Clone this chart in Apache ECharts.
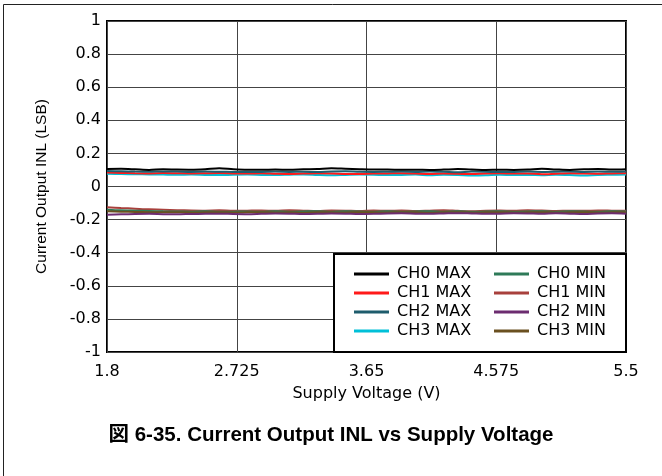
<!DOCTYPE html>
<html>
<head>
<meta charset="utf-8">
<script src="https://cdn.jsdelivr.net/npm/echarts@6/dist/echarts.min.js"></script>
<style>
  html, body { margin: 0; padding: 0; background: #fff; }
  #main { width: 662px; height: 476px; }
</style>
</head>
<body>
<div id="main"></div>
<script>
// supply voltage (V)
var volts = [1.8, 1.9, 2.0, 2.1, 2.2, 2.3, 2.4, 2.5, 2.6, 2.7,
             2.8, 2.9, 3.0, 3.1, 3.2, 3.3, 3.4, 3.5, 3.6, 3.7,
             3.8, 3.9, 4.0, 4.1, 4.2, 4.3, 4.4, 4.5, 4.6, 4.7,
             4.8, 4.9, 5.0, 5.1, 5.2, 5.3, 5.4, 5.5];

var ch0Max = [0.106, 0.107, 0.104, 0.100, 0.104, 0.102, 0.101, 0.104, 0.110, 0.104,
              0.101, 0.101, 0.102, 0.101, 0.104, 0.106, 0.110, 0.107, 0.104, 0.102,
              0.102, 0.101, 0.101, 0.100, 0.102, 0.105, 0.103, 0.100, 0.101, 0.100,
              0.102, 0.107, 0.103, 0.100, 0.104, 0.106, 0.102, 0.104];
var ch1Max = [0.084, 0.082, 0.080, 0.079, 0.081, 0.080, 0.079, 0.080, 0.081, 0.079,
              0.078, 0.080, 0.077, 0.075, 0.078, 0.080, 0.079, 0.076, 0.075, 0.078,
              0.079, 0.080, 0.078, 0.076, 0.079, 0.077, 0.075, 0.079, 0.080, 0.078,
              0.079, 0.074, 0.077, 0.080, 0.078, 0.077, 0.079, 0.080];
var ch2Max = [0.093, 0.092, 0.090, 0.089, 0.091, 0.090, 0.088, 0.090, 0.089, 0.088,
              0.087, 0.088, 0.090, 0.088, 0.089, 0.087, 0.091, 0.092, 0.089, 0.088,
              0.089, 0.090, 0.088, 0.091, 0.089, 0.086, 0.090, 0.089, 0.087, 0.088,
              0.090, 0.088, 0.089, 0.091, 0.088, 0.090, 0.089, 0.091];
var ch3Max = [0.077, 0.075, 0.074, 0.073, 0.072, 0.071, 0.072, 0.070, 0.069, 0.071,
              0.072, 0.070, 0.069, 0.071, 0.073, 0.070, 0.068, 0.070, 0.072, 0.071,
              0.069, 0.070, 0.072, 0.068, 0.071, 0.070, 0.067, 0.068, 0.071, 0.069,
              0.070, 0.068, 0.071, 0.069, 0.067, 0.070, 0.071, 0.072];
var ch0Min = [-0.140, -0.144, -0.146, -0.148, -0.150, -0.151, -0.152, -0.150, -0.153, -0.152,
              -0.151, -0.153, -0.150, -0.152, -0.151, -0.149, -0.152, -0.150, -0.151, -0.153,
              -0.150, -0.152, -0.151, -0.149, -0.152, -0.150, -0.153, -0.151, -0.150, -0.152,
              -0.151, -0.149, -0.152, -0.150, -0.151, -0.153, -0.150, -0.151];
var ch1Min = [-0.125, -0.130, -0.134, -0.138, -0.140, -0.143, -0.145, -0.146, -0.144, -0.147,
              -0.146, -0.145, -0.147, -0.144, -0.146, -0.148, -0.145, -0.146, -0.148, -0.145,
              -0.147, -0.145, -0.148, -0.146, -0.144, -0.147, -0.149, -0.146, -0.145, -0.147,
              -0.143, -0.145, -0.148, -0.146, -0.147, -0.145, -0.146, -0.147];
var ch2Min = [-0.170, -0.168, -0.166, -0.165, -0.167, -0.168, -0.166, -0.165, -0.164, -0.166,
              -0.167, -0.165, -0.163, -0.164, -0.166, -0.165, -0.163, -0.164, -0.166, -0.165,
              -0.163, -0.162, -0.164, -0.165, -0.163, -0.161, -0.163, -0.165, -0.164, -0.162,
              -0.163, -0.165, -0.162, -0.164, -0.166, -0.163, -0.162, -0.164];
var ch3Min = [-0.150, -0.152, -0.154, -0.155, -0.156, -0.155, -0.157, -0.156, -0.155, -0.157,
              -0.156, -0.155, -0.157, -0.156, -0.158, -0.155, -0.156, -0.157, -0.155, -0.156,
              -0.157, -0.155, -0.156, -0.158, -0.156, -0.155, -0.157, -0.156, -0.155, -0.157,
              -0.156, -0.155, -0.157, -0.156, -0.155, -0.157, -0.156, -0.155];

var names = ['CH0 MAX', 'CH1 MAX', 'CH2 MAX', 'CH3 MAX', 'CH0 MIN', 'CH1 MIN', 'CH2 MIN', 'CH3 MIN'];
var colors = ['#000000', '#ff1a1a', '#1e5c6c', '#00c0d8', '#2e7a58', '#a8403c', '#6c2c70', '#6a5020'];
var values = [ch0Max, ch1Max, ch2Max, ch3Max, ch0Min, ch1Min, ch2Min, ch3Min];
// draw order: mins first, max lines on top
var order = [5, 4, 7, 6, 3, 1, 2, 0];

// the source picture is stretched sideways, DejaVu Sans is the closest wide face
var fontWide = 'DejaVu Sans, Verdana, sans-serif';
var fontMain = 'Liberation Sans, Arial, sans-serif';

var myChart = echarts.init(document.getElementById('main'));

var series = [];
for (var k = 0; k < order.length; k++) {
    var i = order[k];
    var pts = [];
    for (var j = 0; j < volts.length; j++) {
        pts.push([volts[j], values[i][j]]);
    }
    series.push({
        name: names[i],
        type: 'line',
        data: pts,
        showSymbol: false,
        smooth: 0.3,
        color: colors[i],
        lineStyle: { width: 2, color: colors[i] },
        z: 2 + k
    });
}

var legendBase = {
    orient: 'vertical',
    top: 261,
    icon: 'rect',
    itemWidth: 35,
    itemHeight: 3,
    itemGap: 3,
    z: 10,
    textStyle: { fontFamily: fontWide, fontSize: 16, color: '#000', lineHeight: 16, padding: [0, 0, 0, 3] }
};

var option = {
    backgroundColor: '#fff',
    animation: false,
    color: colors,
    grid: {
        left: 107, top: 21, right: 36, bottom: 124,
        show: true, borderColor: '#000', borderWidth: 2, backgroundColor: 'transparent'
    },
    legend: [
        Object.assign({}, legendBase, { left: 349, data: names.slice(0, 4) }),
        Object.assign({}, legendBase, { left: 489, data: names.slice(4, 8) })
    ],
    xAxis: {
        type: 'value',
        min: 1.8,
        max: 5.5,
        interval: 0.925,
        name: 'Supply Voltage (V)',
        nameLocation: 'middle',
        nameGap: 34,
        nameTextStyle: { fontFamily: fontWide, fontSize: 16, color: '#000' },
        axisLine: { show: false },
        axisTick: { show: false },
        axisLabel: {
            fontFamily: fontWide, fontSize: 16, color: '#000', margin: 12,
            formatter: function (v) { return String(parseFloat(v.toFixed(3))); }
        },
        splitLine: { show: true, lineStyle: { color: '#444', width: 1 } }
    },
    yAxis: {
        type: 'value',
        min: -1,
        max: 1,
        interval: 0.2,
        name: 'Current Output INL (LSB)',
        nameLocation: 'middle',
        nameGap: 57,
        nameTextStyle: { fontFamily: fontMain, fontSize: 15.5, color: '#000' },
        axisLine: { show: false },
        axisTick: { show: false },
        axisLabel: {
            fontFamily: fontWide, fontSize: 16, color: '#000', margin: 6,
            formatter: function (v) { return String(parseFloat(v.toFixed(2))); }
        },
        splitLine: { show: true, lineStyle: { color: '#444', width: 1 } }
    },
    graphic: [
        // outer frame (top and left edges)
        { type: 'line', shape: { x1: 3.5, y1: 4.5, x2: 662, y2: 4.5 }, style: { stroke: '#222', lineWidth: 1 } },
        { type: 'line', shape: { x1: 3.5, y1: 4.5, x2: 3.5, y2: 476 }, style: { stroke: '#222', lineWidth: 1 } },
        // legend box
        {
            type: 'rect', z: 8,
            shape: { x: 334, y: 254, width: 292, height: 98 },
            style: { fill: '#fff', stroke: '#000', lineWidth: 2 }
        },
        {
            type: 'text', left: 'center', top: 425,
            style: {
                text: '図 6-35. Current Output INL vs Supply Voltage',
                fontFamily: 'Liberation Sans, Noto Sans CJK JP, sans-serif',
                fontWeight: 'bold', fontSize: 20.5, fill: '#000'
            }
        }
    ],
    series: series
};

myChart.setOption(option);
</script>
</body>
</html>
